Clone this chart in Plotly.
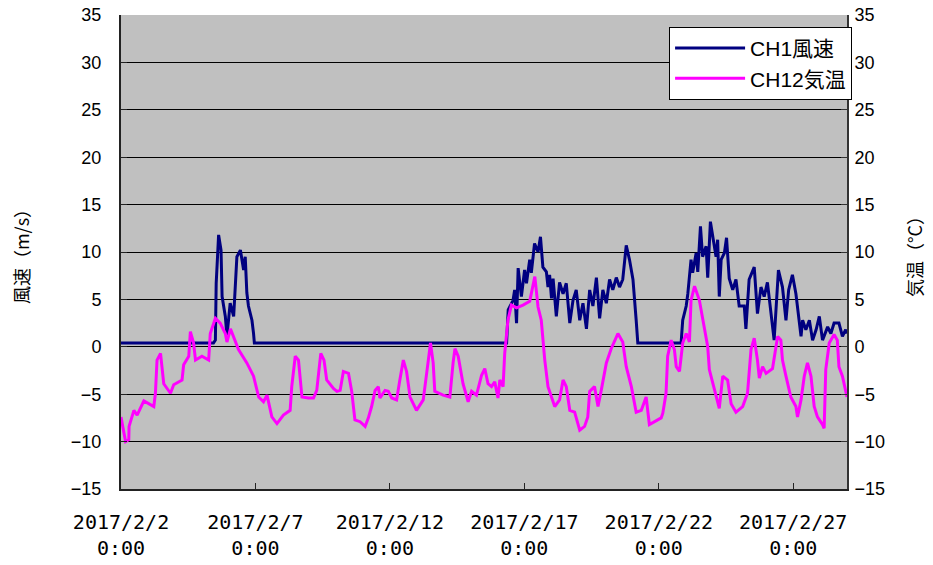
import pandas as pd
import plotly.graph_objects as go

START = pd.Timestamp("2017-02-02 00:00")

# CH1 wind speed (m/s): day offset from 2017/2/2 0:00, value
wind_days = [
    0.00, 3.44, 3.51, 3.54, 3.63, 3.72, 3.76, 3.88, 3.94, 4.00, 4.06, 4.19, 4.25, 4.31,
    4.44, 4.56, 4.62, 4.68, 4.74, 4.87, 4.93, 4.96,
    14.34, 14.40, 14.58, 14.64, 14.71, 14.77, 14.89, 15.01, 15.08, 15.20, 15.26, 15.38,
    15.51, 15.60, 15.69, 15.82, 15.88, 15.94, 16.01, 16.07, 16.19, 16.31, 16.44, 16.56,
    16.69, 16.81, 16.93, 17.06, 17.18, 17.31, 17.43, 17.55, 17.68, 17.80, 17.92, 18.05,
    18.17, 18.29, 18.42, 18.54, 18.66, 18.73, 18.79, 18.91, 19.04, 19.16, 19.22,
    20.83, 20.89, 21.02, 21.08, 21.20, 21.26, 21.39, 21.45, 21.55, 21.63, 21.76, 21.82,
    21.92, 22.01, 22.13, 22.19, 22.25, 22.32, 22.44, 22.52, 22.62, 22.75, 22.87, 22.99,
    23.18, 23.24, 23.36, 23.55, 23.67, 23.80, 23.92, 24.04, 24.17, 24.29, 24.45, 24.60,
    24.73, 24.83, 24.97, 25.10, 25.29, 25.35, 25.47, 25.60, 25.72, 25.85, 25.97, 26.09,
    26.28, 26.40, 26.52, 26.70, 26.83, 26.95, 27.00,
]
wind_vals = [
    0.4, 0.4, 0.7, 6.7, 11.8, 10.2, 5.3, 3.2, 1.1, 2.8, 4.6, 3.2, 7.1, 9.5,
    10.2, 8.1, 9.5, 5.7, 4.3, 2.8, 1.4, 0.4,
    0.4, 3.9, 4.9, 6.0, 2.5, 8.3, 5.3, 8.1, 6.7, 9.2, 7.8, 10.9,
    10.0, 11.6, 8.4, 7.9, 6.3, 7.6, 5.1, 7.2, 3.2, 6.8, 5.6, 6.7,
    2.5, 4.9, 6.0, 2.8, 4.6, 1.9, 6.0, 4.3, 7.3, 3.0, 6.0, 4.6,
    7.1, 6.0, 7.3, 6.3, 7.1, 9.5, 10.7, 9.2, 7.1, 2.8, 0.4,
    0.4, 2.8, 4.3, 5.6, 9.2, 7.8, 9.9, 7.9, 12.7, 9.5, 10.6, 7.3,
    13.2, 11.6, 9.5, 11.3, 5.3, 9.2, 9.9, 11.5, 7.2, 6.0, 7.1, 4.3,
    4.3, 1.9, 7.1, 8.4, 3.5, 6.3, 5.3, 6.8, 3.9, 0.7, 8.1, 6.3,
    2.8, 6.0, 7.6, 5.6, 1.1, 2.8, 1.8, 2.8, 0.7, 1.8, 3.2, 0.7,
    2.1, 1.4, 2.5, 2.5, 1.1, 1.8, 1.4,
]

# CH12 air temperature (deg C)
temp_days = [
    0.00, 0.17, 0.29, 0.30, 0.48, 0.60, 0.85, 1.22, 1.28, 1.34, 1.47, 1.53, 1.59, 1.84,
    1.96, 2.27, 2.33, 2.52, 2.58, 2.70, 2.77, 3.01, 3.26, 3.32, 3.51, 3.69, 3.88, 3.94,
    4.07, 4.37, 4.68, 4.93, 5.12, 5.30, 5.43, 5.61, 5.80, 6.04, 6.29, 6.35, 6.48, 6.60,
    6.73, 6.97, 7.16, 7.28, 7.43, 7.55, 7.65, 7.90, 8.03, 8.15, 8.27, 8.46, 8.58, 8.70,
    8.89, 9.08, 9.20, 9.32, 9.45, 9.57, 9.63, 9.82, 9.94, 10.07, 10.25, 10.37, 10.50,
    10.62, 10.75, 10.99, 11.24, 11.43, 11.51, 11.61, 11.67, 11.98, 12.23, 12.35, 12.42,
    12.54, 12.72, 12.91, 13.04, 13.22, 13.41, 13.53, 13.65, 13.78, 13.90, 14.02, 14.09,
    14.21, 14.27, 14.39, 14.52, 14.71, 14.95, 15.20, 15.39, 15.51, 15.63, 15.76, 15.88,
    16.13, 16.31, 16.44, 16.56, 16.69, 16.87, 17.06, 17.24, 17.36, 17.43, 17.61, 17.74,
    17.86, 18.05, 18.23, 18.48, 18.66, 18.79, 18.98, 19.16, 19.35, 19.53, 19.65, 19.84,
    20.09, 20.15, 20.27, 20.33, 20.46, 20.58, 20.65, 20.77, 20.89, 21.02, 21.14, 21.20,
    21.33, 21.51, 21.63, 21.82, 21.88, 22.07, 22.25, 22.38, 22.56, 22.69, 22.87, 23.12,
    23.30, 23.43, 23.55, 23.67, 23.74, 23.86, 23.99, 24.23, 24.42, 24.54, 24.60, 24.73,
    24.91, 25.10, 25.16, 25.29, 25.41, 25.53, 25.66, 25.78, 25.90, 26.09, 26.15, 26.21,
    26.34, 26.52, 26.64, 26.70, 26.83, 27.00,
]
temp_vals = [
    -7.4, -10.0, -9.8, -8.4, -6.7, -7.2, -5.7, -6.3, -4.9, -1.4, -0.7, -2.1, -3.9, -4.9,
    -4.0, -3.5, -1.9, -1.0, 1.6, 0.4, -1.4, -1.0, -1.4, 1.4, 3.0, 2.5, 1.4, 0.5,
    1.9, -0.3, -1.7, -3.1, -5.3, -5.8, -5.1, -7.4, -8.1, -7.2, -6.7, -4.2, -1.0, -1.4,
    -5.3, -5.4, -5.4, -4.6, -0.7, -1.4, -3.5, -4.4, -4.7, -4.6, -2.6, -2.8, -4.7, -7.7,
    -7.9, -8.4, -7.5, -6.3, -4.6, -4.2, -5.4, -4.6, -4.7, -5.4, -5.6, -3.5, -1.4,
    -2.6, -5.3, -6.7, -5.6, -1.4, 0.4, -1.7, -4.7, -5.1, -5.3, -1.7, -0.2,
    -1.0, -3.9, -5.8, -4.7, -5.1, -3.0, -2.3, -3.9, -4.2, -3.7, -5.4, -3.5,
    -4.2, -0.7, 2.8, 4.4, 4.1, 4.4, 4.8, 7.4, 4.2, 2.8, -1.4, -4.2,
    -6.3, -5.6, -3.5, -4.2, -6.7, -6.9, -8.8, -8.4, -7.4, -4.7, -4.2, -6.3,
    -4.6, -1.7, -0.2, 1.4, 0.5, -2.1, -4.2, -6.9, -6.7, -5.3, -8.2, -7.9,
    -7.5, -7.0, -4.9, -1.0, 0.7, -0.3, -2.1, -2.6, 0.4, 1.4, 0.5, 4.9,
    6.4, 4.9, 3.1, 0.0, -2.4, -4.6, -6.5, -3.1, -3.5, -6.0, -6.9, -6.3,
    -4.9, -0.3, 0.9, -1.4, -3.3, -2.1, -2.8, -2.3, 1.1, 0.7, -1.4, -3.1,
    -5.3, -6.3, -7.4, -5.6, -3.1, -1.7, -3.1, -6.3, -7.4, -8.2, -8.6, -2.4,
    0.4, 1.3, 0.7, -2.1, -3.1, -5.3,
]

tick_days = [0, 5, 10, 15, 20, 25]
tick_text = [
    "2017/2/2<br>0:00", "2017/2/7<br>0:00", "2017/2/12<br>0:00",
    "2017/2/17<br>0:00", "2017/2/22<br>0:00", "2017/2/27<br>0:00",
]

wind_x = START + pd.to_timedelta(wind_days, unit="D")
temp_x = START + pd.to_timedelta(temp_days, unit="D")
tick_x = START + pd.to_timedelta(tick_days, unit="D")

fig = go.Figure()
fig.add_trace(go.Scatter(
    x=wind_x, y=wind_vals, mode="lines", name="CH1風速",
    line=dict(color="#000080", width=3),
))
fig.add_trace(go.Scatter(
    x=temp_x, y=temp_vals, mode="lines", name="CH12気温", yaxis="y2",
    line=dict(color="#ff00ff", width=3),
))

yfont = dict(family="Liberation Sans, Arial, sans-serif", size=18, color="black")
title_font = dict(family="Noto Sans CJK JP, sans-serif", size=18, color="black")

# page body has an 8px margin, so the figure is 8px smaller than the window
fig.update_layout(
    width=925, height=557,
    margin=dict(l=113, r=86, t=7, b=76),
    paper_bgcolor="white",
    plot_bgcolor="#c0c0c0",
    showlegend=True,
    legend=dict(
        x=1.007, xanchor="right", y=0.975, yanchor="top",
        bgcolor="white", bordercolor="black", borderwidth=1,
        font=dict(family="Liberation Sans, Noto Sans CJK JP, sans-serif", size=21, color="black"),
        tracegroupgap=0, itemwidth=70,
    ),
    xaxis=dict(
        type="date",
        range=[START, START + pd.Timedelta(days=27)],
        tickvals=tick_x, ticktext=tick_text,
        ticks="inside", ticklen=6, tickcolor="#222",
        showgrid=False, zeroline=False,
        showline=True, linecolor="#222", linewidth=2,
        tickfont=dict(family="DejaVu Sans Mono, monospace", size=20, color="black"),
        ticklabelstandoff=14,
        automargin=False,
    ),
    yaxis=dict(
        range=[-15, 35], dtick=5, tick0=0,
        ticks="inside", ticklen=6, tickcolor="#222",
        showgrid=True, gridcolor="black", gridwidth=1,
        zeroline=False,
        showline=True, linecolor="#222", linewidth=2,
        tickfont=yfont, ticklabelstandoff=14, ticklabeloverflow="allow",
        title=dict(text="風速（m/s）", font=title_font, standoff=39),
        automargin=False,
    ),
    yaxis2=dict(
        range=[-15, 35], dtick=5, tick0=0,
        overlaying="y", side="right",
        ticks="inside", ticklen=6, tickcolor="#333",
        showgrid=False, zeroline=False,
        showline=True, linecolor="#333", linewidth=2,
        tickfont=yfont, ticklabelstandoff=2, ticklabeloverflow="allow",
        title=dict(text="気温（°C）", font=title_font, standoff=25),
        automargin=False,
    ),
)

fig.write_html("out.html")
